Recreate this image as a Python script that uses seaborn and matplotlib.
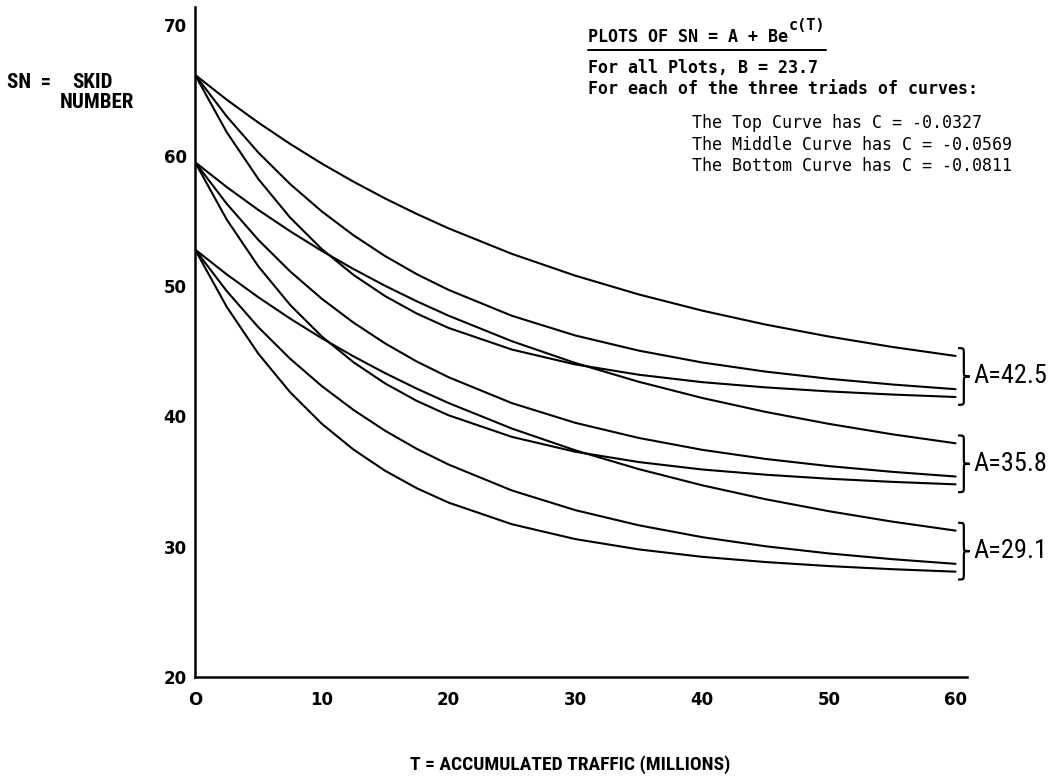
import numpy as np
import pandas as pd
import matplotlib
matplotlib.use("Agg")
import matplotlib.pyplot as plt
import seaborn as sns
from matplotlib.path import Path
from matplotlib.patches import PathPatch
from matplotlib.lines import Line2D
from matplotlib import font_manager

# ---------------- data ----------------
T = [0, 2.5, 5, 7.5, 10, 12.5, 15, 17.5, 20, 25, 30, 35, 40, 45, 50, 55, 60]

a425_top = [66.2, 64.29, 62.53, 60.90, 59.39, 58.00, 56.71, 55.52, 54.42, 52.46, 50.79, 49.35, 48.11, 47.04, 46.12, 45.32, 44.63]
a425_mid = [66.2, 63.01, 60.23, 57.82, 55.72, 53.89, 52.29, 50.90, 49.70, 47.71, 46.20, 45.04, 44.13, 43.43, 42.88, 42.44, 42.08]
a425_bot = [66.2, 61.80, 58.20, 55.25, 52.83, 50.85, 49.22, 47.88, 46.78, 45.12, 43.98, 43.19, 42.62, 42.22, 41.91, 41.67, 41.48]

a358_top = [59.5, 57.59, 55.83, 54.20, 52.69, 51.30, 50.01, 48.82, 47.72, 45.76, 44.09, 42.65, 41.41, 40.34, 39.42, 38.62, 37.93]
a358_mid = [59.5, 56.31, 53.53, 51.12, 49.02, 47.19, 45.59, 44.20, 43.00, 41.01, 39.50, 38.34, 37.43, 36.73, 36.18, 35.74, 35.38]
a358_bot = [59.5, 55.10, 51.50, 48.55, 46.13, 44.15, 42.52, 41.18, 40.08, 38.42, 37.28, 36.49, 35.92, 35.52, 35.21, 34.97, 34.78]

a291_top = [52.8, 50.89, 49.13, 47.50, 45.99, 44.60, 43.31, 42.12, 41.02, 39.06, 37.39, 35.95, 34.71, 33.64, 32.72, 31.92, 31.23]
a291_mid = [52.8, 49.61, 46.83, 44.42, 42.32, 40.49, 38.89, 37.50, 36.30, 34.31, 32.80, 31.64, 30.73, 30.03, 29.48, 29.04, 28.68]
a291_bot = [52.8, 48.40, 44.80, 41.85, 39.43, 37.45, 35.82, 34.48, 33.38, 31.72, 30.58, 29.79, 29.22, 28.82, 28.51, 28.27, 28.08]

triad_labels = ["A=42.5", "A=35.8", "A=29.1"]
triads = [
    [a425_top, a425_mid, a425_bot],
    [a358_top, a358_mid, a358_bot],
    [a291_top, a291_mid, a291_bot],
]
y_ticks = [20, 30, 40, 50, 60, 70]
x_ticks = [0, 10, 20, 30, 40, 50, 60]
x_tick_labels = ["O", "10", "20", "30", "40", "50", "60"]

# ---------------- fonts ----------------
sns.set_style("white")
names = {f.name for f in font_manager.fontManager.ttflist}
NARROW = "DejaVu Sans"
for cand in ["Liberation Sans Narrow", "Roboto Condensed", "Roboto"]:
    if cand in names:
        NARROW = cand
        break
MONO = "DejaVu Sans Mono"
plt.rcParams["font.family"] = ["DejaVu Sans"]
plt.rcParams["text.color"] = "black"
plt.rcParams["xtick.color"] = "black"
plt.rcParams["ytick.color"] = "black"

# ---------------- build long table ----------------
rows = []
for ti, tri in enumerate(triads):
    for ci, series in enumerate(tri):
        for t, v in zip(T, series):
            rows.append({"T": t, "SN": v, "curve": f"{ti}-{ci}"})
df = pd.DataFrame(rows)

W, H = 1064, 783
fig = plt.figure(figsize=(W / 100, H / 100), dpi=100)
ax = fig.add_axes([195 / W, 1 - 677 / H, 772 / W, 670 / H])

sns.lineplot(data=df, x="T", y="SN", hue="curve", palette=["black"] * 9,
             legend=False, estimator=None, sort=False, lw=1.5, ax=ax)

ax.set_xlim(0, 60.9)
ax.set_ylim(20, 71.4)
for s in ["top", "right"]:
    ax.spines[s].set_visible(False)
for s in ["left", "bottom"]:
    ax.spines[s].set_linewidth(1.8)
    ax.spines[s].set_color("black")
ax.set_yticks(y_ticks)
ax.set_yticklabels([str(v) for v in y_ticks], fontsize=12, fontweight="bold")
ax.set_xticks(x_ticks)
ax.set_xticklabels(x_tick_labels, fontsize=12, fontweight="bold")
ax.tick_params(axis="y", length=0, pad=6)
ax.tick_params(axis="x", length=0, pad=10)
ax.set_xlabel("")
ax.set_ylabel("")

# ---------------- braces + A labels ----------------
def brace(ax, x0, y0, y1, w, d):
    ym = (y0 + y1) / 2
    xm = x0 + w / 2
    verts = [(x0, y1), (xm, y1), (xm, y1), (xm, y1 - d), (xm, ym + d),
             (xm, ym), (xm, ym), (x0 + w, ym),
             (xm, ym), (xm, ym), (xm, ym - d), (xm, y0 + d),
             (xm, y0), (xm, y0), (x0, y0)]
    codes = [Path.MOVETO, Path.CURVE4, Path.CURVE4, Path.CURVE4, Path.LINETO,
             Path.CURVE4, Path.CURVE4, Path.CURVE4,
             Path.CURVE4, Path.CURVE4, Path.CURVE4, Path.LINETO,
             Path.CURVE4, Path.CURVE4, Path.CURVE4]
    ax.add_patch(PathPatch(Path(verts, codes), fill=False, lw=1.6,
                           edgecolor="black", clip_on=False))

for lab, tri in zip(triad_labels, triads):
    ends = [s[-1] for s in tri]
    lo, hi = min(ends) - 0.6, max(ends) + 0.6
    brace(ax, T[-1] + 0.2, lo, hi, 0.9, 0.45)
    ax.text(T[-1] + 1.4, (lo + hi) / 2, lab, fontsize=19, family=NARROW,
            ha="left", va="center", clip_on=False)

# ---------------- texts ----------------
def fx(px):
    return px / W

def fy(py):
    return 1 - py / H

fig.text(fx(7), fy(82), "SN  =", fontsize=15, fontweight="bold", family=NARROW,
         ha="left", va="center")
fig.text(fx(72), fy(82), "SKID", fontsize=15, fontweight="bold", family=NARROW,
         ha="left", va="center")
fig.text(fx(60), fy(103), "NUMBER", fontsize=15, fontweight="bold", family=NARROW,
         ha="left", va="center")

fig.text(fx(570), fy(765), "T = ACCUMULATED TRAFFIC (MILLIONS)",
         fontsize=14, fontweight="bold", family=NARROW, ha="center", va="center")

FS = 12
title = fig.text(fx(588), fy(37), "PLOTS OF SN = A + Be", fontsize=FS,
                 fontweight="bold", family=MONO, ha="left", va="center")
fig.text(fx(588), fy(68), "For all Plots, B = 23.7", fontsize=FS,
         fontweight="bold", family=MONO, ha="left", va="center")
fig.text(fx(588), fy(89), "For each of the three triads of curves:", fontsize=FS,
         fontweight="bold", family=MONO, ha="left", va="center")
fig.text(fx(692), fy(123), "The Top Curve has C = -0.0327", fontsize=FS,
         family=MONO, ha="left", va="center")
fig.text(fx(692), fy(145), "The Middle Curve has C = -0.0569", fontsize=FS,
         family=MONO, ha="left", va="center")
fig.text(fx(692), fy(166), "The Bottom Curve has C = -0.0811", fontsize=FS,
         family=MONO, ha="left", va="center")

fig.canvas.draw()
r = fig.canvas.get_renderer()
bb = title.get_window_extent(r)
sup = fig.text(bb.x1 / W + 0.001, fy(26), "c(T)", fontsize=11, fontweight="bold",
               family=MONO, ha="left", va="center")
fig.canvas.draw()
bs = sup.get_window_extent(r)
fig.add_artist(Line2D([bb.x0 / W, bs.x1 / W], [fy(50), fy(50)],
                      transform=fig.transFigure, color="black", lw=1.4))

fig.savefig("out.png", dpi=100, facecolor="white")
